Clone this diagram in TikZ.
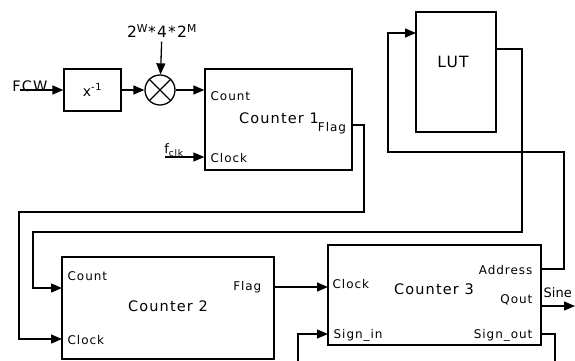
\documentclass[tikz,border=0pt]{standalone}
\usepackage{fontspec}
\setmainfont[LetterSpace=8]{DejaVu Sans}
\newfontfamily\plainsans{DejaVu Sans}
\usetikzlibrary{arrows.meta}
\begin{document}
\begin{tikzpicture}[x=1pt,y=-1pt,line width=1.3pt,
  every node/.style={font=\fontsize{14.5}{14.5}\selectfont},
  blk/.style={draw,rectangle,inner sep=0pt},
  sig/.style={-{Triangle[length=11pt,width=9pt]}},
  port/.style={font=\fontsize{12}{12}\selectfont,inner sep=0pt}]
\useasboundingbox (0,0) rectangle (575,360);
\clip (0,0) rectangle (575,360);
% blocks
\node[blk,minimum width=57,minimum height=42,font=\fontsize{14}{14}\selectfont] (inv) at (92.5,90) {x\textsuperscript{-1}};
\node[draw,circle,minimum size=30,inner sep=0pt] (mult) at (160,90) {};
\draw (mult.north west) -- (mult.south east) (mult.north east) -- (mult.south west);
\node[blk,minimum width=147,minimum height=101] (c1) at (278.5,119.5) {};
\node[blk,minimum width=80,minimum height=120] (lut) at (456,72) {};
\node[blk,minimum width=212,minimum height=102] (c2) at (168,308) {};
\node[blk,minimum width=213,minimum height=100] (c3) at (434.5,295) {};
% texts
\node (fcwlbl) at (30,86) {FCW};
\node[font=\fontsize{15.5}{15.5}\selectfont] (gain) at (162,31) {2\textsuperscript{W}*4*2\textsuperscript{M}};
\node[font=\fontsize{13}{13}\selectfont] (fclk) at (174,150) {f\textsubscript{clk}};
\node at (279,118) {Counter 1};
\node at (168,306) {Counter 2};
\node at (434,289) {Counter 3};
\node[font=\fontsize{15.5}{15.5}\selectfont] at (453,62) {LUT};
\node[port,anchor=west] at (210,96) {Count};
\node[port,anchor=west] at (210,158) {Clock};
\node[port] at (332,128) {Flag};
\node[port,anchor=west] at (67,276) {Count};
\node[port,anchor=west] at (67,340) {Clock};
\node[port,anchor=east] at (262,287) {Flag};
\node[port,anchor=west] at (332,284) {Clock};
\node[port,anchor=west] at (333,335) {Sign\_in};
\node[port,anchor=east] at (533,270) {Address};
\node[port,anchor=east] at (533,300) {Qout};
\node[port,anchor=east] at (533,335) {Sign\_out};
\node[anchor=west,inner sep=0pt,font=\plainsans\fontsize{13}{13}\selectfont] at (543,293) {Sine};
% ports
\coordinate (fcw) at (20,90);
\coordinate (clkin) at (165,157);
\coordinate (c1f) at (352,125);
\coordinate (c2cnt) at (62,288);
\coordinate (c2clk) at (62,339);
\coordinate (c2f) at (274,287);
\coordinate (c3clk) at (328,287);
\coordinate (c3si) at (328,334);
\coordinate (c3a) at (541,269);
\coordinate (c3q) at (541,306);
\coordinate (c3so) at (541,334);
\coordinate (sine) at (575,306);
\coordinate (lutin) at (416,33);
\coordinate (lutout) at (496,49);
% connections
\draw[sig] (fcw) -- (inv);
\draw[sig] (inv) -- (mult);
\draw[sig] (gain) -- (mult);
\draw[sig] (mult) -- (mult -| c1.west);
\draw[sig] (clkin) -- (clkin -| c1.west);
\draw[sig] (c1f) -| (364,212) -| (19,339) -- (c2clk);
\draw[sig] (lutout) -| (522,232) -| (33,288) -- (c2cnt);
\draw[sig] (c2f) -- (c3clk);
\draw[sig] (c3a) -| (564,152) -| (388,33) -- (lutin);
\draw[sig] (c3q) -- (sine);
\draw[sig] (c3so) -| (555,375) -| (298,334) -- (c3si);
\end{tikzpicture}
\end{document}
